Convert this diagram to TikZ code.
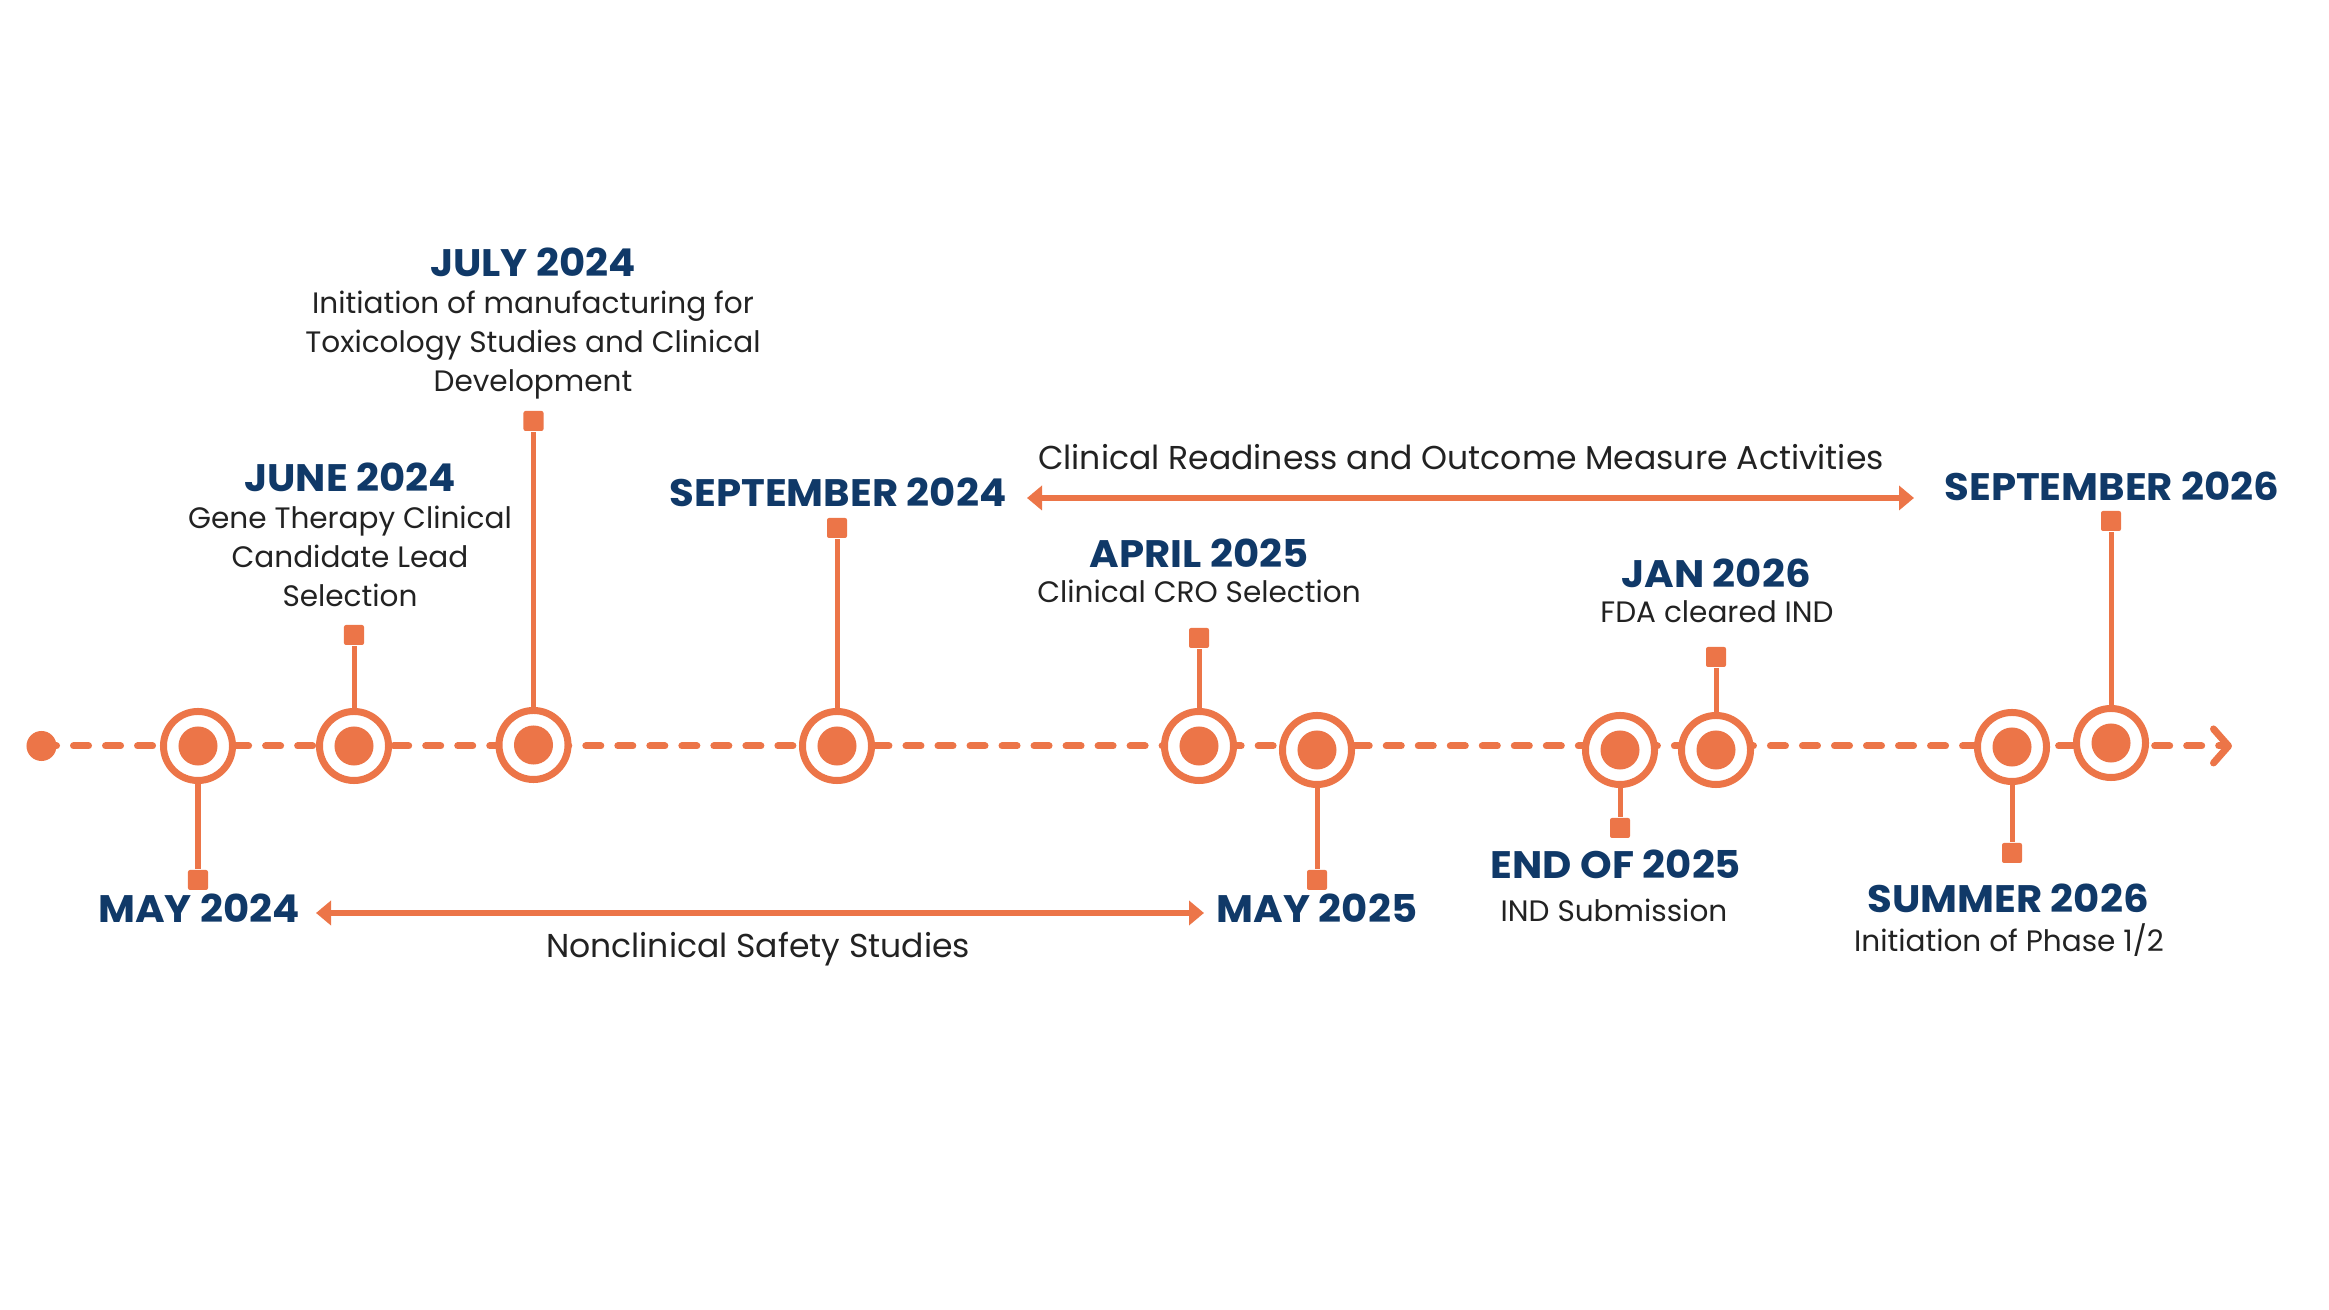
\documentclass[tikz,border=0pt]{standalone}
\usepackage{fontspec}
\setmainfont{Poppins}
\usetikzlibrary{arrows.meta}
\definecolor{tlorange}{RGB}{236,117,72}
\definecolor{tlnavy}{RGB}{16,57,104}
\definecolor{tlink}{RGB}{34,34,34}

\tikzset{
  ring/.style={circle, draw=tlorange, fill=white, line width=0.07cm,
    minimum size=0.69cm, inner sep=0pt,
    path picture={\fill[tlorange] (path picture bounding box.center) circle (0.195cm);}},
  tag/.style={rectangle, fill=tlorange, rounded corners=0.02cm,
    minimum size=0.2cm, inner sep=0pt},
  stem/.style={tlorange, line width=0.05cm},
  datelbl/.style={anchor=base, inner sep=0pt, text=tlnavy,
    font=\bfseries\fontsize{10.9}{12}\selectfont\addfontfeature{FakeStretch=1.05}},
  desclbl/.style={anchor=base, inner sep=0pt, text=tlink, align=center,
    font=\fontsize{8.4}{11.2}\selectfont},
  spanlbl/.style={anchor=base, inner sep=0pt, text=tlink,
    font=\fontsize{9.4}{11}\selectfont},
  span/.style={tlorange, line width=0.055cm,
    {Triangle[length=0.15cm,width=0.24cm]}-{Triangle[length=0.15cm,width=0.24cm]}},
}

\begin{document}
\begin{tikzpicture}[x=0.01cm, y=-0.01cm, >=Stealth]
  \useasboundingbox (0,0) rectangle (2329,1310);
  % timeline
  \node[circle, fill=tlorange, minimum size=0.3cm, inner sep=0pt] (start) at (41.5,746) {};
  \coordinate (stop) at (2232,746);
  \draw[tlorange, line width=0.07cm, line cap=round, dash pattern=on 0.15cm off 0.17cm,
        -{Straight Barb[length=0.15cm, width=0.34cm, round]}] (start.center) -- (stop);
  % milestones and their tags
  \foreach \n/\x/\y/\t in {1/198/746/880, 2/354/746/635, 3/533.5/745/421, 4/837/746/528,
      5/1199/746/638, 6/1317/750/880, 7/1620/750/828, 8/1716/750/657,
      9/2012/747/853, 10/2111/743/521}{
    \node[ring] (r\n) at (\x,\y) {};
    \node[tag] (t\n) at (\x,\t) {};
    \draw[stem] (r\n) -- (t\n);
  }
  % dates and descriptions (multi-line text sits on its last line)
  \node[datelbl] (may24) at (199,923) {MAY 2024};
  \node[datelbl] (jun24) at (350,492) {JUNE 2024};
  \node[desclbl] (jun24d) at (350,607) {Gene Therapy Clinical\\Candidate Lead\\Selection};
  \node[datelbl] (jul24) at (533,277) {JULY 2024};
  \node[desclbl] (jul24d) at (533,392) {Initiation of manufacturing for\\Toxicology Studies and Clinical\\Development};
  \node[datelbl] (sep24) at (838,507) {SEPTEMBER 2024};
  \node[datelbl] (apr25) at (1199,568) {APRIL 2025};
  \node[desclbl] (apr25d) at (1199,603) {Clinical CRO Selection};
  \node[datelbl] (may25) at (1317,923) {MAY 2025};
  \node[datelbl] (end25) at (1616,879) {END OF 2025};
  \node[desclbl] (end25d) at (1614,922) {IND Submission};
  \node[datelbl] (jan26) at (1716,588) {JAN 2026};
  \node[desclbl] (jan26d) at (1717,623) {FDA cleared IND};
  \node[datelbl] (sum26) at (2008,913) {SUMMER 2026};
  \node[desclbl] (sum26d) at (2009,952) {Initiation of Phase 1/2};
  \node[datelbl] (sep26) at (2112,501) {SEPTEMBER 2026};
  % spans
  \coordinate (crL) at (1027,498);
  \coordinate (crR) at (1914,498);
  \draw[span] (crL) -- (crR);
  \node[spanlbl] (crlbl) at (1461,470) {Clinical Readiness and Outcome Measure Activities};
  \coordinate (ncL) at (316,913);
  \coordinate (ncR) at (1204,913);
  \draw[span] (ncL) -- (ncR);
  \node[spanlbl] (nclbl) at (758,958) {Nonclinical Safety Studies};
\end{tikzpicture}
\end{document}
